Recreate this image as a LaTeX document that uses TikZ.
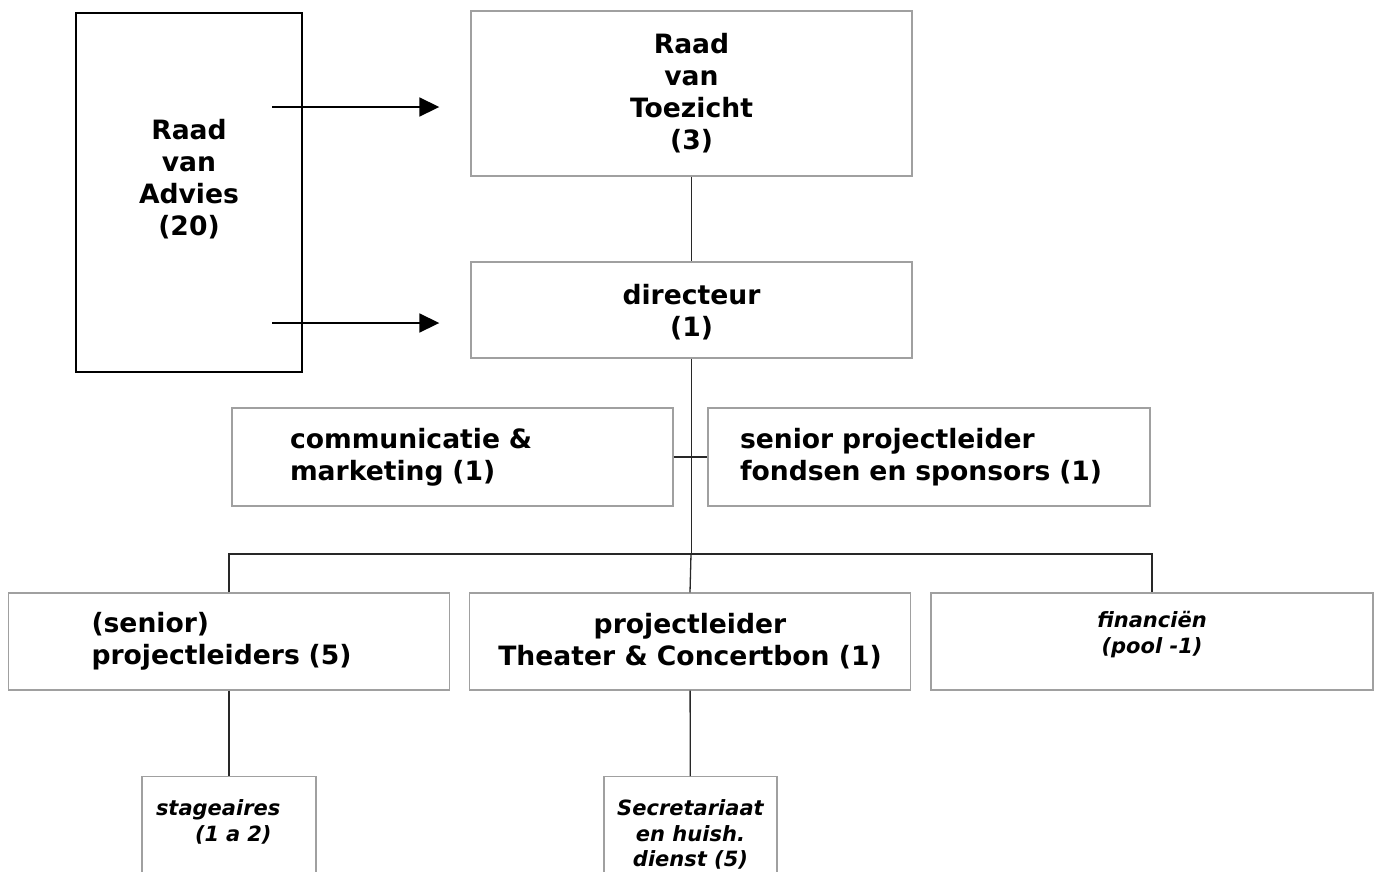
\documentclass[tikz,border=0pt]{standalone}
\usepackage{fontspec}
\setmainfont{DejaVu Sans}
\usetikzlibrary{arrows.meta,positioning}
\definecolor{kaderGrijs}{RGB}{160,160,160}
\definecolor{lijnGrijs}{RGB}{40,40,40}
\begin{document}
\begin{tikzpicture}[x=1pt,y=-1pt,
    font=\fontsize{26.6}{32}\selectfont\bfseries,
    box/.style={draw=kaderGrijs,line width=1.4pt,inner sep=0pt,
                minimum width=441pt,minimum height=97pt,align=center},
    klein/.style={box,font=\fontsize{21}{25.5}\selectfont\bfseries\itshape},
    lijn/.style={lijnGrijs,line width=1.3pt},
    pijl/.style={-{Triangle[length=20pt,width=19pt]},black,line width=1.8pt}]
  \useasboundingbox (0,0) rectangle (1381,871);
  \clip (0,0) rectangle (1381,871);
  % bovenste laag
  \node[draw=black,line width=2.5pt,minimum width=226pt,minimum height=359pt,
        inner sep=0pt,align=center,text depth=31pt] (advies) at (189,192.5)
        {Raad\\ van\\ Advies\\ (20)};
  \node[box,minimum height=165pt] (toezicht) at (691.5,93.5)
        {Raad\\ van\\ Toezicht\\ (3)};
  \node[box,minimum height=96pt,text depth=0pt] (dir) at (691.5,310) {directeur\\ (1)};
  % staf
  \node[box,minimum height=98pt,text width=325pt,align=left] (comm) at (452.5,457)
        {communicatie \&\\ marketing (1)};
  \node[box,minimum width=442pt,minimum height=98pt,text width=378pt,align=left]
        (fondsen) at (929,457) {senior projectleider\\ fondsen en sponsors (1)};
  % afdelingen
  \node[box,text width=275pt,align=left] (sproj) at (229,641.5)
        {(senior)\\ projectleiders (5)};
  \node[box] (theater) at (690,641.5) {projectleider\\ Theater \& Concertbon (1)};
  \node[klein,minimum width=442pt,text depth=18pt] (fin) at (1152,641.5)
        {financiën\\ (pool -1)};
  % onderste laag
  \node[klein,anchor=north,minimum width=174pt,text width=146pt,align=left,
        inner ysep=23pt,text depth=120pt] (stage) at (229,776)
        {stageaires\\ \hspace*{39pt}(1 a 2)};
  \node[klein,anchor=north,minimum width=173pt,inner ysep=23pt,text depth=120pt]
        (secr) at (690.5,776) {Secretariaat\\ en huish.\\ dienst (5)};
  % verbindingen
  \coordinate (bus) at (691,554);
  \coordinate (a1) at (272,107);
  \coordinate (a2) at (272,323);
  \draw[lijn] (toezicht) -- (dir);
  \draw[lijn] (dir.south) -- (dir.south |- bus);
  \draw[lijn] (comm.east) -- (fondsen.west);
  \draw[lijn] (sproj.north) |- (bus) -| (fin.north);
  \draw[lijn] (bus) -- (theater.north);
  \draw[lijn] (sproj) -- (stage);
  \draw[lijn] (theater) -- (secr);
  \draw[pijl,shorten >=31pt] (a1) -- (a1 -| toezicht.west);
  \draw[pijl,shorten >=31pt] (a2) -- (a2 -| dir.west);
\end{tikzpicture}
\end{document}
